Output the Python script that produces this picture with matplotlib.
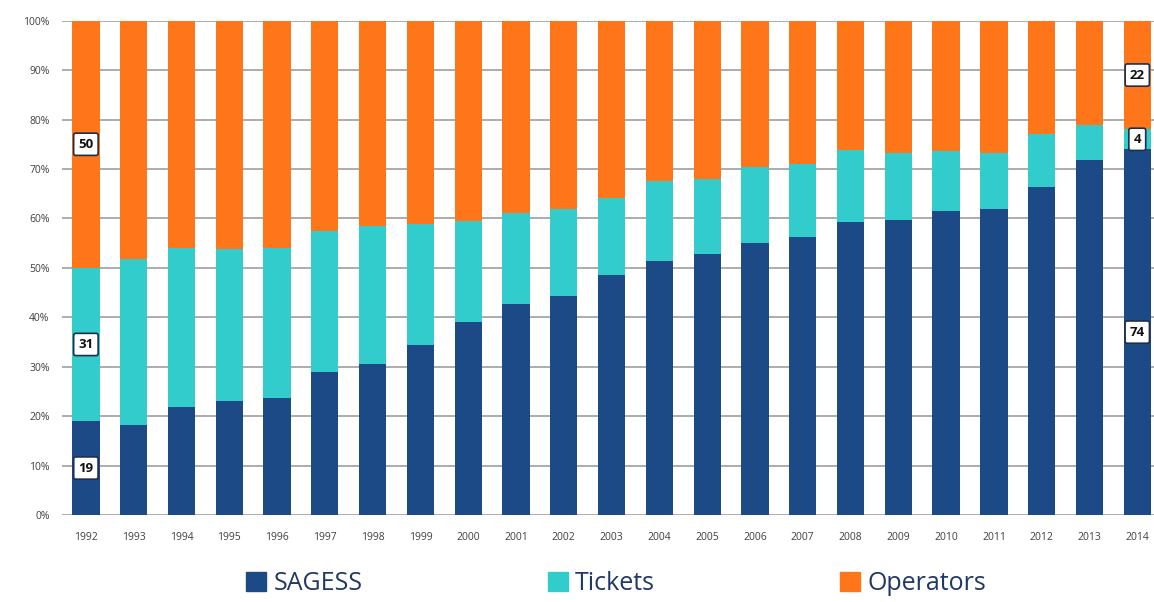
import numpy as np
import matplotlib.pyplot as plt
from matplotlib.patches import Patch

years = [str(y) for y in range(1992, 2015)]
# shares in percent, read bottom to top
sagess = [19, 18.3, 21.8, 23.0, 23.6, 28.9, 30.5, 34.4, 39.0, 42.7, 44.3, 48.5,
          51.4, 52.8, 55.1, 56.2, 59.3, 59.7, 61.4, 62.0, 66.4, 71.9, 74]
tickets_top = [50, 51.8, 54.0, 53.8, 54.0, 57.5, 58.4, 58.9, 59.4, 61.0, 61.9, 64.1,
               67.5, 67.9, 70.4, 71.1, 73.8, 73.3, 73.7, 73.2, 77.1, 79.0, 78]

sagess = np.array(sagess)
tickets = np.array(tickets_top) - sagess
operators = 100 - np.array(tickets_top)

c_sagess = '#1c4a86'
c_tickets = '#33cccc'
c_oper = '#ff761a'

plt.rcParams['font.family'] = ['Open Sans', 'DejaVu Sans']

fig = plt.figure(figsize=(11.54, 6.02), dpi=100)
ax = fig.add_axes([62 / 1154, 1 - 515 / 602, 1 - 62 / 1154, (515 - 20.7) / 602])

x = np.arange(len(years))
w = 0.57
ax.bar(x, sagess, w, color=c_sagess, zorder=2)
ax.bar(x, tickets, w, bottom=sagess, color=c_tickets, zorder=2)
ax.bar(x, operators, w, bottom=sagess + tickets, color=c_oper, zorder=2)

ax.set_xlim(-0.5, 22.35)
ax.set_ylim(0, 100)
ax.set_yticks(np.arange(0, 101, 10))
ax.set_yticklabels([f'{v}%' for v in range(0, 101, 10)])
ax.set_xticks(x)
ax.set_xticklabels(years)
ax.tick_params(length=0, labelsize=7.5, labelcolor='#404040', pad=9)
ax.tick_params(axis='x', pad=12)
ax.yaxis.grid(True, color='#a6a6a6', linewidth=1.3, zorder=0)
ax.set_axisbelow(True)
for s in ax.spines.values():
    s.set_visible(False)

# value boxes on the first and last bars
box = dict(boxstyle='round,pad=0.35,rounding_size=0.15', fc='white', ec='#1f2f4a', lw=1.2)
for i in (0, len(years) - 1):
    segs = [(sagess[i], 0), (tickets[i], sagess[i]), (operators[i], sagess[i] + tickets[i])]
    for val, base in segs:
        ax.text(x[i], base + val / 2, f'{val:.0f}', ha='center', va='center',
                fontsize=9.5, fontweight='bold', color='#111111', bbox=box, zorder=4)

handles = [Patch(color=c_sagess, label='SAGESS'),
           Patch(color=c_tickets, label='Tickets'),
           Patch(color=c_oper, label='Operators')]
leg = fig.legend(handles=handles, loc='center', bbox_to_anchor=(0.534, 0.031), ncol=3,
                 frameon=False, fontsize=18, handlelength=0.8, handleheight=0.8,
                 handletextpad=0.3, columnspacing=7.4)
for t in leg.get_texts():
    t.set_color('#1f3864')

fig.savefig('out.png', dpi=100)
